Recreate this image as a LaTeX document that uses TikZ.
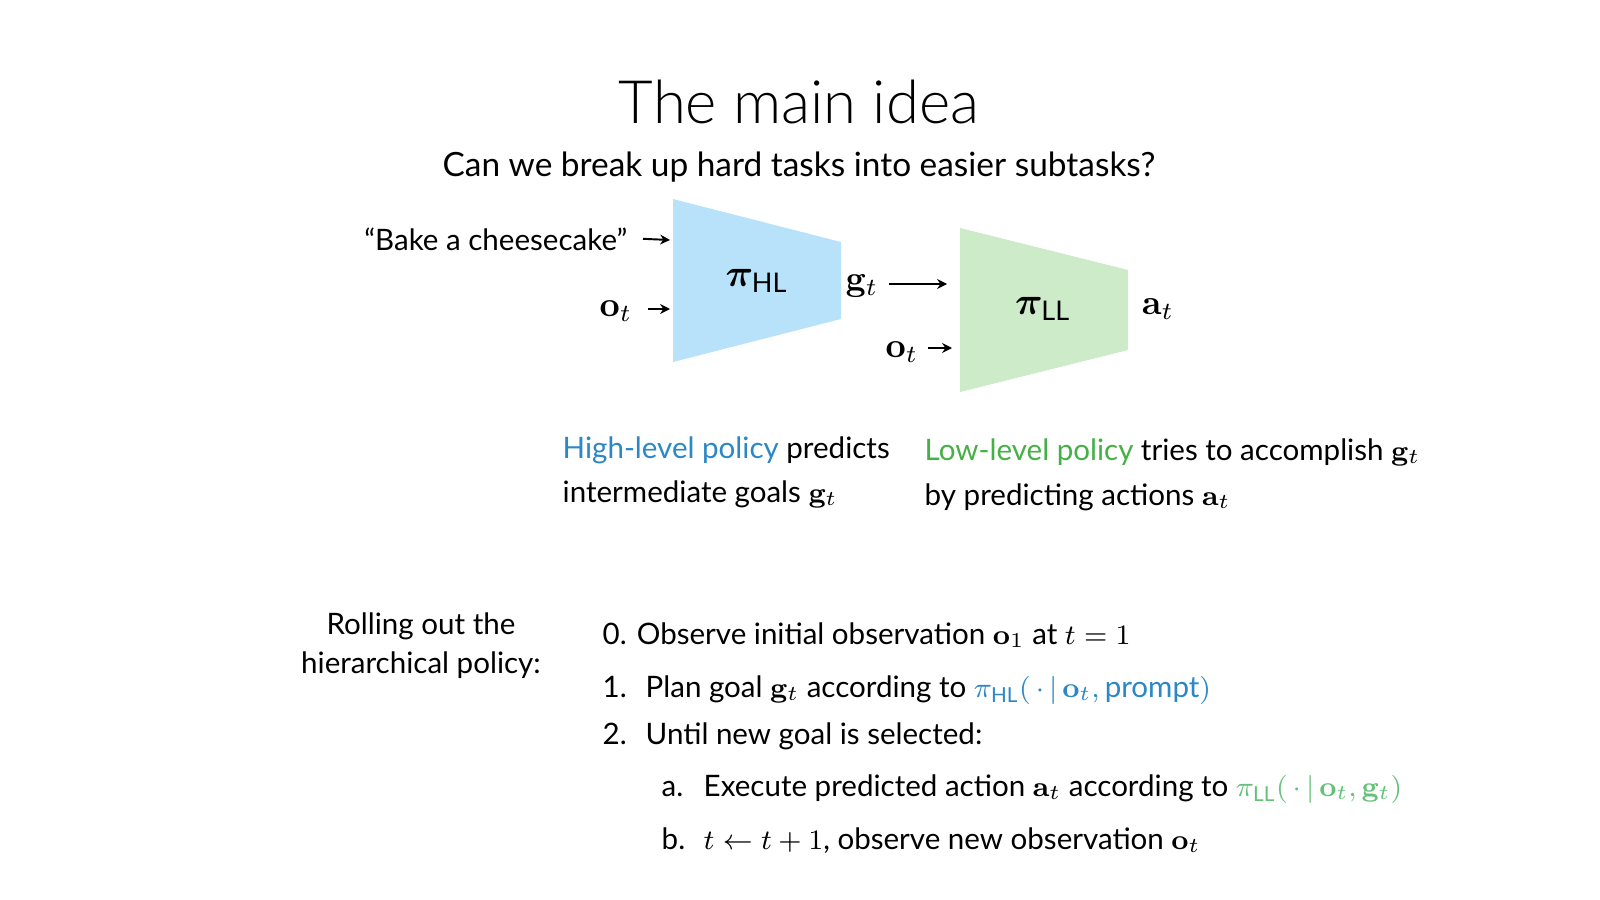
\documentclass[tikz,border=0pt]{standalone}
\usepackage{amsmath,amssymb}
\usepackage{bm}
\usepackage[no-math]{fontspec}
\setmainfont{Lato}
\newfontfamily\titlefont{Lato Light}
\usetikzlibrary{arrows.meta}
\definecolor{hlfill}{HTML}{B8E2FA}
\definecolor{llfill}{HTML}{CDEBC8}
\definecolor{hltext}{HTML}{2B87C5}
\definecolor{lltext}{HTML}{45B045}
\definecolor{llform}{HTML}{66C07A}

\begin{document}
\begin{tikzpicture}[
  x=0.01cm,y=-0.01cm,
  every node/.style={inner sep=0pt,font=\fontsize{8.4}{10}\selectfont},
  txt/.style={anchor=base west},
  mathlbl/.style={font=\fontsize{10}{12}\selectfont},
  pilbl/.style={font=\fontsize{11}{13}\selectfont},
  edge/.style={-{Stealth[length=2.8pt,width=2.8pt]},line width=0.55pt}
]
\useasboundingbox (0,0) rectangle (1600,900);
% Title
\node[anchor=base,font=\titlefont\fontsize{17}{20}\selectfont] (title) at (799,123) {The main idea};
\node[anchor=base,font=\fontsize{9.5}{11}\selectfont] (question) at (799,176) {Can we break up hard tasks into easier subtasks?};
% High-level policy trapezoid
\coordinate (hltl) at (673,199);
\coordinate (hltr) at (841,242);
\coordinate (hlbr) at (841,319);
\coordinate (hlbl) at (673,362);
\fill[hlfill] (hltl) -- (hltr) -- (hlbr) -- (hlbl) -- cycle;
\node[pilbl] (pihl) at (757,281) {$\bm{\pi}_{\text{HL}}$};
% Low-level policy trapezoid
\coordinate (lltl) at (960,228);
\coordinate (lltr) at (1128,270);
\coordinate (llbr) at (1128,350);
\coordinate (llbl) at (960,392);
\fill[llfill] (lltl) -- (lltr) -- (llbr) -- (llbl) -- cycle;
\node[pilbl] (pill) at (1043,309) {$\bm{\pi}_{\text{LL}}$};
% Inputs and outputs
\node[anchor=base east] (prompt) at (628,250) {``Bake a cheesecake''};
\node[mathlbl] (obs1) at (616,311) {$\mathbf{o}_t$};
\node[mathlbl] (goal) at (862,286) {$\mathbf{g}_t$};
\node[mathlbl] (obs2) at (902,352) {$\mathbf{o}_t$};
\node[mathlbl] (act) at (1158,309) {$\mathbf{a}_t$};
\coordinate (hlprompt) at (670,240);
\coordinate (hlobs) at (670,309);
\coordinate (llgoal) at (947,284);
\coordinate (llobs) at (952,348);
\draw[edge] ([xshift=0.15cm]prompt.east) -- (hlprompt);
\draw[edge] ([xshift=0.15cm]obs1.east |- hlobs) -- (hlobs);
\draw[edge] ([xshift=0.1cm]goal.east |- llgoal) -- (llgoal);
\draw[edge] ([xshift=0.09cm]obs2.east |- llobs) -- (llobs);
% Captions
\node[txt] (hlcap1) at (562,458) {\textcolor{hltext}{High-level policy} predicts};
\node[txt] (hlcap2) at (562,502) {intermediate goals $\mathbf{g}_t$};
\node[txt] (llcap1) at (924,460) {\textcolor{lltext}{Low-level policy} tries to accomplish $\mathbf{g}_t$};
\node[txt] (llcap2) at (924,505) {by predicting actions $\mathbf{a}_t$};
% Rollout steps
\node[anchor=base] (roll1) at (421,634) {Rolling out the};
\node[anchor=base] (roll2) at (421,673) {hierarchical policy:};
\node[txt] (step0) at (602,644) {0. Observe initial observation $\mathbf{o}_1$ at $t = 1$};
\node[txt] (num1) at (602,697) {1.};
\node[txt] (step1) at (645,697) {Plan goal $\mathbf{g}_t$ according to {\color{hltext}$\pi_{\text{HL}}(\,\cdot\,|\,\mathbf{o}_t, \text{prompt})$}};
\node[txt] (num2) at (602,744) {2.};
\node[txt] (step2) at (645,744) {Until new goal is selected:};
\node[txt] (numa) at (661,796) {a.};
\node[txt] (stepa) at (703,796) {Execute predicted action $\mathbf{a}_t$ according to {\color{llform}$\pi_{\text{LL}}(\,\cdot\,|\,\mathbf{o}_t, \mathbf{g}_t)$}};
\node[txt] (numb) at (661,849) {b.};
\node[txt] (stepb) at (703,849) {$t \leftarrow t+1$, observe new observation $\mathbf{o}_t$};
\end{tikzpicture}
\end{document}
